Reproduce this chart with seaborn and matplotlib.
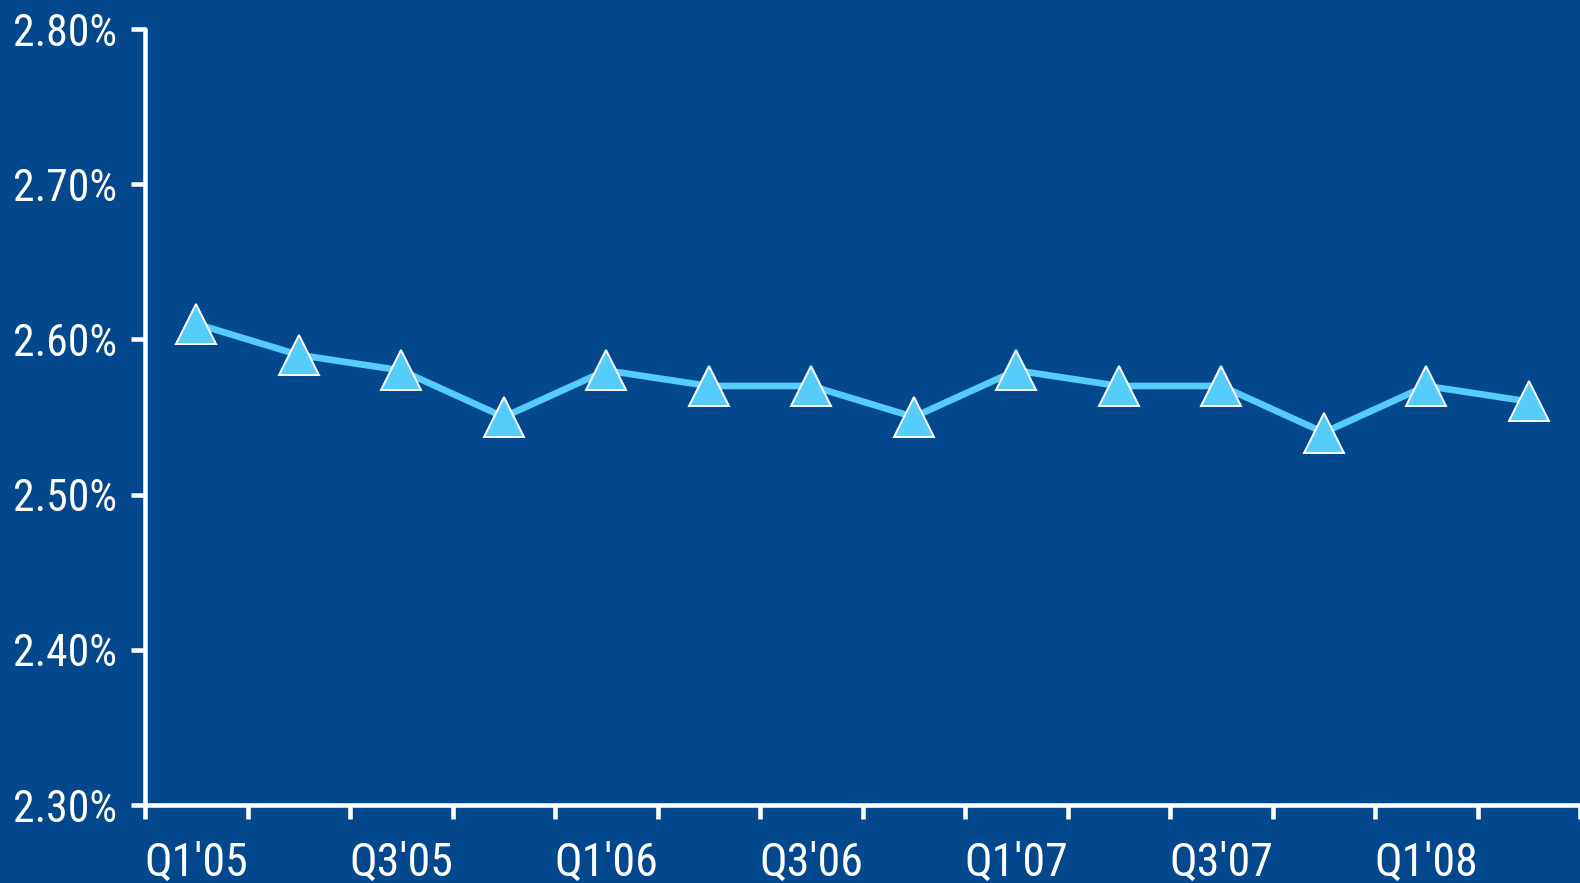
import matplotlib
matplotlib.use("Agg")
import matplotlib.pyplot as plt
import matplotlib.ticker as mticker
from matplotlib import font_manager
import seaborn as sns
import pandas as pd

quarters = ["Q1'05", "Q2'05", "Q3'05", "Q4'05", "Q1'06", "Q2'06", "Q3'06", "Q4'06",
            "Q1'07", "Q2'07", "Q3'07", "Q4'07", "Q1'08", "Q2'08"]
values = [2.61, 2.59, 2.58, 2.55, 2.58, 2.57, 2.57, 2.55, 2.58, 2.57, 2.57, 2.54, 2.57, 2.56]
y_ticks = [2.30, 2.40, 2.50, 2.60, 2.70, 2.80]

BG = "#03478C"
LINE = "#55CCF9"

sns.set_theme(style="white")

# pick a condensed / narrow font if one is installed
cond_file = None
cands = []
for f in font_manager.fontManager.ttflist:
    nm = f.name.lower()
    path = f.fname.lower()
    st = str(f.stretch).lower()
    if f.style != "normal" or f.weight not in (400, "normal", "regular"):
        continue
    narrow = ("narrow" in nm or "condensed" in nm or "narrow" in path or "condensed" in path
              or st in ("condensed", "semi-condensed", "extra-condensed"))
    if narrow and "cjk" not in nm and "light" not in path and "bold" not in path and "extra" not in path.split("/")[-1]:
        cands.append(f)
pref = ["liberation sans narrow", "roboto condensed", "open sans condensed", "noto sans", "dejavu sans"]
def rank(f):
    nm = f.name.lower()
    for i, p in enumerate(pref):
        if nm.startswith(p):
            return i
    return len(pref)
cands.sort(key=rank)
if cands:
    cond_file = cands[0].fname

if cond_file:
    font_manager.fontManager.addfont(cond_file)
    fp = font_manager.FontProperties(fname=cond_file)
    fam = fp.get_name()
    plt.rcParams['font.family'] = [fam, 'DejaVu Sans']
    ysize, xsize = 31.5, 33
else:
    plt.rcParams['font.family'] = ['DejaVu Sans']
    ysize, xsize = 24, 24

df = pd.DataFrame({"pos": range(len(quarters)), "value": values})

fig = plt.figure(figsize=(15.8, 8.83), dpi=100, facecolor=BG)
ax = fig.add_axes([145/1580, 1 - 805/883, 1 - 145/1580, (805 - 29)/883])
ax.set_facecolor(BG)

sns.lineplot(data=df, x="pos", y="value", ax=ax, color=LINE, linewidth=4.8,
             marker="^", markersize=29, markerfacecolor=LINE,
             markeredgecolor="white", markeredgewidth=1.4, clip_on=False)

ax.set_xlim(-0.5, len(quarters) - 0.5)
ax.set_ylim(2.30, 2.80)
ax.set_yticks(y_ticks)
ax.yaxis.set_major_formatter(mticker.FuncFormatter(lambda v, p: f"{v:.2f}%"))

ax.set_xticks(list(range(0, len(quarters), 2)))
ax.set_xticklabels(quarters[::2])
ax.set_xticks([i + 0.5 for i in range(-1, len(quarters))], minor=True)
ax.set_xlabel("")
ax.set_ylabel("")

for s in ["top", "right"]:
    ax.spines[s].set_visible(False)
for s in ["left", "bottom"]:
    ax.spines[s].set_color("white")
    ax.spines[s].set_linewidth(3.3)
    ax.spines[s].set_capstyle("round")

ax.tick_params(axis="x", which="major", length=0, pad=26, labelsize=xsize, labelcolor="white")
ax.tick_params(axis="x", which="minor", length=10, width=3.3, color="white", direction="out", bottom=True)
ax.tick_params(axis="y", length=10, width=3.3, color="white", direction="out", pad=10,
               labelsize=ysize, labelcolor="white", left=True)

fig.savefig("out.png", dpi=100, facecolor=BG)
